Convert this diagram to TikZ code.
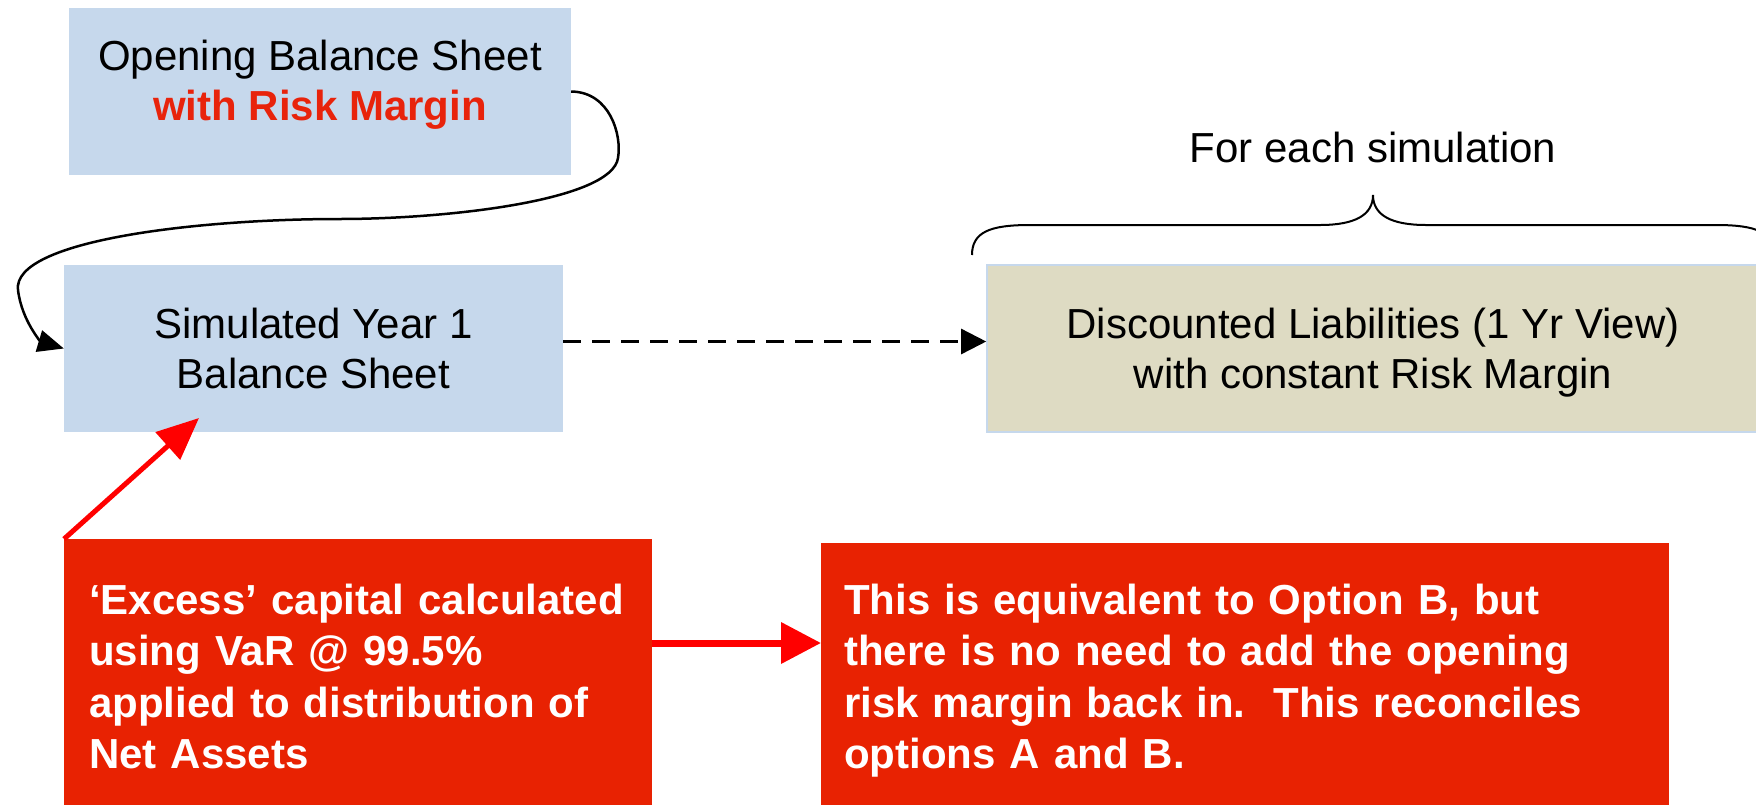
\documentclass[tikz,border=0pt]{standalone}
\usepackage{fontspec}
\setmainfont{Liberation Sans}
\usetikzlibrary{positioning,arrows.meta}
\definecolor{sheetblue}{HTML}{C6D8EC}
\definecolor{liabtan}{HTML}{DEDBC3}
\definecolor{notered}{HTML}{E82202}
\definecolor{marginred}{HTML}{E8230B}
\tikzset{
	sheet/.style={fill=sheetblue, minimum width=502pt, minimum height=167pt, inner sep=0pt, align=center, font=\fontsize{42}{50}\selectfont},
	note/.style={fill=notered, text=white, anchor=north west, align=left, minimum height=275pt, font=\bfseries\fontsize{42}{51.5}\selectfont},
}

\begin{document}
\begin{tikzpicture}[x=1pt,y=-1pt]
	\useasboundingbox (0,0) rectangle (1756,804);
	\clip (0,0) rectangle (1756,804);
	\node[sheet, text depth=23pt] (open) at (320,91.5) {Opening Balance Sheet\\{\color{marginred}\bfseries with Risk Margin}};
	\node[sheet, minimum width=499pt] (sim) at (313.5,348.5) {Simulated Year 1\\Balance Sheet};
	\node[sheet, text depth=0pt, fill=liabtan, draw=sheetblue, line width=1.5pt, minimum width=772pt, right=423pt of sim] (disc) {Discounted Liabilities (1 Yr View)\\with constant Risk Margin};
	\node[note, text width=538pt, inner xsep=25pt] (excess) at (64,539) {‘Excess’ capital calculated\\using VaR @ 99.5\%\\applied to distribution of\\Net Assets};
	\node[note, text width=802pt, inner xsep=23pt] (equiv) at (821,543) {This is equivalent to Option B, but\\there is no need to add the opening\\risk margin back in.\ \ This reconciles\\options A and B.};
	\node[font=\fontsize{42}{50}\selectfont] (foreach) at (1373,147) {For each simulation};
	\coordinate (simhit) at (199,418);
	\coordinate (midrow) at (700,643);

	\draw[line width=2.5pt, -{Triangle[length=26pt,width=22pt]}] (open.east) .. controls (610,92) and (622,135) .. (618,158) .. controls (612,200) and (450,219) .. (339,219) .. controls (200,219) and (12,240) .. (18,290) .. controls (22,322) and (42,342) .. (sim.west);
	\draw[line width=2.5pt, dash pattern=on 18pt off 11pt, -{Triangle[length=25pt,width=25pt]}] ([yshift=7pt]sim.east) -- ([yshift=7pt]disc.west);
	\draw[red, line width=5pt, -{Triangle[length=42pt,width=36pt]}] (excess.north west) -- (simhit);
	\draw[red, line width=7pt, -{Triangle[length=40pt,width=40pt]}] (excess.east |- midrow) -- (equiv.west |- midrow);
	\draw[line width=2pt] (972,255) .. controls (972,232) and (990,225) .. (1030,225) -- (1320,225) .. controls (1355,225) and (1373,215) .. (1373,195) .. controls (1373,215) and (1391,225) .. (1426,225) -- (1716,225) .. controls (1756,225) and (1774,232) .. (1774,255);
\end{tikzpicture}
\end{document}
